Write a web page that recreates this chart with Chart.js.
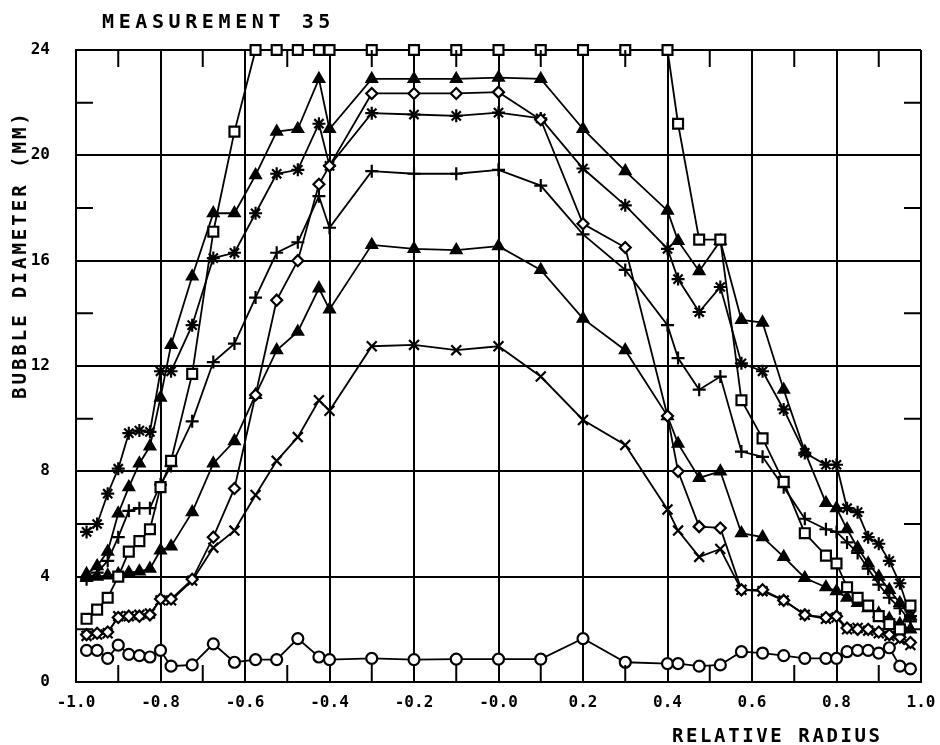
<!DOCTYPE html>
<html>
<head>
<meta charset="utf-8">
<script src="https://cdn.jsdelivr.net/npm/chart.js@4.4.1/dist/chart.umd.min.js"></script>
<style>
  html, body { margin: 0; padding: 0; background: #fff; }
  canvas { display: block; }
</style>
</head>
<body>
<canvas id="bubbleChart" width="940" height="745"></canvas>
<script>
// Radial measuring positions (relative radius), shared by every series
var radiusPositions = [
  -0.975, -0.95, -0.925, -0.9, -0.875, -0.85, -0.825, -0.8, -0.775,
  -0.725, -0.675, -0.625, -0.575, -0.525, -0.475, -0.425, -0.4,
  -0.3, -0.2, -0.1, 0.0, 0.1, 0.2, 0.3,
  0.4, 0.425, 0.475, 0.525, 0.575, 0.625, 0.675, 0.725,
  0.775, 0.8, 0.825, 0.85, 0.875, 0.9, 0.925, 0.95, 0.975
];

// Bubble diameter (mm) per series, one value per radial position
var squareSeries = [
  2.4, 2.75, 3.2, 4.0, 4.95, 5.35, 5.8, 7.4, 8.4,
  11.7, 17.1, 20.9, 24, 24, 24, 24, 24,
  24, 24, 24, 24, 24, 24, 24,
  24, 21.2, 16.8, 16.8, 10.7, 9.25, 7.6, 5.65,
  4.8, 4.5, 3.6, 3.2, 2.9, 2.5, 2.2, 2.0, 2.9
];
var filledTriangleSeries = [
  4.1, 4.4, 4.95, 6.4, 7.4, 8.3, 8.95, 10.8, 12.8,
  15.4, 17.8, 17.8, 19.25, 20.9, 21.0, 22.9, 21.0,
  22.9, 22.9, 22.9, 22.95, 22.9, 21.0, 19.4,
  17.9, 16.75, 15.6, 16.75, 13.75, 13.65, 11.1, 8.75,
  6.8, 6.6, 5.8, 5.1, 4.5, 4.0, 3.5, 3.0, 2.5
];
var diamondSeries = [
  1.8, 1.85, 1.9, 2.45, 2.5, 2.5, 2.55, 3.15, 3.15,
  3.9, 5.5, 7.35, 10.9, 14.5, 16.0, 18.9, 19.6,
  22.35, 22.35, 22.35, 22.4, 21.35, 17.4, 16.5,
  10.1, 8.0, 5.9, 5.85, 3.5, 3.5, 3.1, 2.55,
  2.45, 2.5, 2.05, 2.0, 2.0, 1.9, 1.8, 1.7, 1.5
];
var asteriskSeries = [
  5.7, 6.0, 7.15, 8.1, 9.45, 9.55, 9.5, 11.8, 11.8,
  13.55, 16.1, 16.3, 17.8, 19.3, 19.45, 21.2, 19.6,
  21.6, 21.55, 21.5, 21.62, 21.4, 19.5, 18.1,
  16.45, 15.3, 14.05, 15.0, 12.1, 11.8, 10.35, 8.7,
  8.25, 8.25, 6.6, 6.45, 5.5, 5.25, 4.6, 3.75, 2.5
];
var plusSeries = [
  3.9, 4.15, 4.6, 5.5, 6.5, 6.6, 6.6, 7.5, 8.2,
  9.9, 12.15, 12.85, 14.6, 16.3, 16.7, 18.45, 17.25,
  19.4, 19.3, 19.3, 19.45, 18.85, 17.0, 15.65,
  13.55, 12.3, 11.1, 11.6, 8.75, 8.55, 7.4, 6.2,
  5.8, 5.7, 5.3, 4.9, 4.3, 3.7, 3.2, 2.8, 2.3
];
var triangleSeries = [
  3.95, 4.0, 4.05, 4.1, 4.15, 4.2, 4.3, 5.0, 5.15,
  6.45, 8.3, 9.15, 10.9, 12.6, 13.3, 14.95, 14.15,
  16.6, 16.45, 16.4, 16.55, 15.65, 13.8, 12.6,
  10.1, 9.05, 7.75, 8.0, 5.65, 5.5, 4.75, 3.95,
  3.6, 3.45, 3.2, 3.0, 2.8, 2.6, 2.4, 2.2, 2.0
];
var crossSeries = [
  1.75, 1.8, 1.85, 2.5, 2.5, 2.55, 2.6, 3.1, 3.1,
  3.85, 5.1, 5.75, 7.1, 8.4, 9.3, 10.7, 10.3,
  12.75, 12.8, 12.6, 12.75, 11.6, 9.95, 9.0,
  6.55, 5.75, 4.75, 5.05, 3.5, 3.45, 3.1, 2.55,
  2.4, 2.45, 2.0, 2.05, 1.95, 1.85, 1.75, 1.6, 1.4
];
var circleSeries = [
  1.2, 1.2, 0.9, 1.4, 1.05, 1.0, 0.95, 1.2, 0.6,
  0.65, 1.45, 0.75, 0.85, 0.85, 1.65, 0.95, 0.85,
  0.9, 0.85, 0.87, 0.87, 0.87, 1.65, 0.75,
  0.7, 0.7, 0.6, 0.65, 1.15, 1.1, 1.0, 0.9,
  0.9, 0.9, 1.15, 1.2, 1.2, 1.1, 1.3, 0.6, 0.5
];

// Axis labels and titles
var xTickLabels = ['-1.0', '-0.8', '-0.6', '-0.4', '-0.2', '-0.0', '0.2', '0.4', '0.6', '0.8', '1.0'];
var yTickLabels = ['0', '4', '8', '12', '16', '20', '24'];
var chartTitle = 'MEASUREMENT 35';
var xAxisTitle = 'RELATIVE RADIUS';
var yAxisTitle = 'BUBBLE DIAMETER (MM)';

// Pair each series with the radial positions
function toPoints(values) {
  return values.map(function (v, i) {
    return { x: radiusPositions[i], y: v };
  });
}

function makeDataset(values, style, radius, fill) {
  return {
    data: toPoints(values),
    borderColor: '#000',
    borderWidth: 1.8,
    pointStyle: style,
    pointRadius: radius,
    pointBorderWidth: 2.2,
    pointBorderColor: '#000',
    pointBackgroundColor: fill,
    showLine: true,
    fill: false,
    tension: 0,
    clip: false
  };
}

var datasets = [
  makeDataset(squareSeries, 'rect', 7, '#fff'),
  makeDataset(filledTriangleSeries, 'triangle', 6, '#000'),
  makeDataset(diamondSeries, 'rectRot', 5.5, '#fff'),
  makeDataset(asteriskSeries, 'star', 6.5, '#000'),
  makeDataset(plusSeries, 'cross', 6.5, '#000'),
  makeDataset(triangleSeries, 'triangle', 6, '#000'),
  makeDataset(crossSeries, 'crossRot', 7, '#000'),
  makeDataset(circleSeries, 'circle', 5.5, '#fff')
];

function isMajorX(value) {
  return Math.round(value * 10) % 2 === 0;
}
function isMajorY(value) {
  return Math.round(value) % 4 === 0;
}

// Short inward tick marks at the half-divisions on all four sides
var minorTicks = {
  id: 'minorTicks',
  afterDatasetsDraw: function (chart) {
    var ctx = chart.ctx;
    var area = chart.chartArea;
    var xs = chart.scales.x;
    var ys = chart.scales.y;
    var len = 17;
    ctx.save();
    ctx.strokeStyle = '#000';
    ctx.lineWidth = 2;
    ctx.beginPath();
    for (var v = -9; v <= 9; v += 2) {
      var px = xs.getPixelForValue(v / 10);
      ctx.moveTo(px, area.bottom);
      ctx.lineTo(px, area.bottom - len);
      ctx.moveTo(px, area.top);
      ctx.lineTo(px, area.top + len);
    }
    for (var w = 2; w <= 22; w += 4) {
      var py = ys.getPixelForValue(w);
      ctx.moveTo(area.left, py);
      ctx.lineTo(area.left + len, py);
      ctx.moveTo(area.right, py);
      ctx.lineTo(area.right - len, py);
    }
    ctx.stroke();
    ctx.restore();
  }
};

// Title and axis captions in the wide-spaced plotter lettering
var plotText = {
  id: 'plotText',
  afterDraw: function (chart) {
    var ctx = chart.ctx;
    ctx.save();
    ctx.fillStyle = '#000';
    ctx.textBaseline = 'alphabetic';
    ctx.textAlign = 'left';

    ctx.font = 'bold 20px "DejaVu Sans Mono"';
    ctx.letterSpacing = '4.6px';
    ctx.fillText(chartTitle, 102, 28);

    ctx.font = 'bold 19px "DejaVu Sans Mono"';
    ctx.letterSpacing = '2.6px';
    ctx.fillText(xAxisTitle, 672, 742);

    ctx.translate(26, 399);
    ctx.rotate(-Math.PI / 2);
    ctx.letterSpacing = '3px';
    ctx.fillText(yAxisTitle, 0, 0);
    ctx.restore();
  }
};

var ctx = document.getElementById('bubbleChart');
var bubbleChart = new Chart(ctx, {
  type: 'scatter',
  data: { datasets: datasets },
  options: {
    responsive: false,
    animation: false,
    layout: { padding: { top: 50, right: 19, left: 0, bottom: 0 } },
    plugins: {
      legend: { display: false },
      title: { display: false },
      tooltip: { enabled: false }
    },
    scales: {
      x: {
        type: 'linear',
        min: -1,
        max: 1,
        afterFit: function (scale) {
          scale.height = 63;
          scale.paddingLeft = 0;
          scale.paddingRight = 0;
        },
        ticks: {
          stepSize: 0.1,
          autoSkip: false,
          maxRotation: 0,
          padding: 11,
          color: '#000',
          font: { family: '"DejaVu Sans Mono"', size: 16, weight: 'bold' },
          callback: function (value) {
            if (!isMajorX(value)) return '';
            return xTickLabels[Math.round((value + 1) * 5)];
          }
        },
        grid: {
          drawTicks: false,
          lineWidth: 2,
          color: function (c) {
            return isMajorX(c.tick.value) ? '#000' : 'rgba(0,0,0,0)';
          }
        },
        border: { display: true, color: '#000', width: 2 }
      },
      y: {
        type: 'linear',
        min: 0,
        max: 24,
        afterFit: function (scale) {
          scale.width = 76;
          scale.paddingTop = 0;
          scale.paddingBottom = 0;
        },
        ticks: {
          stepSize: 2,
          autoSkip: false,
          padding: 26,
          color: '#000',
          font: { family: '"DejaVu Sans Mono"', size: 16, weight: 'bold' },
          callback: function (value) {
            if (!isMajorY(value)) return '';
            return yTickLabels[Math.round(value / 4)];
          }
        },
        grid: {
          drawTicks: false,
          lineWidth: 2,
          color: function (c) {
            return isMajorY(c.tick.value) ? '#000' : 'rgba(0,0,0,0)';
          }
        },
        border: { display: true, color: '#000', width: 2 }
      }
    }
  },
  plugins: [minorTicks, plotText]
});
</script>
</body>
</html>
